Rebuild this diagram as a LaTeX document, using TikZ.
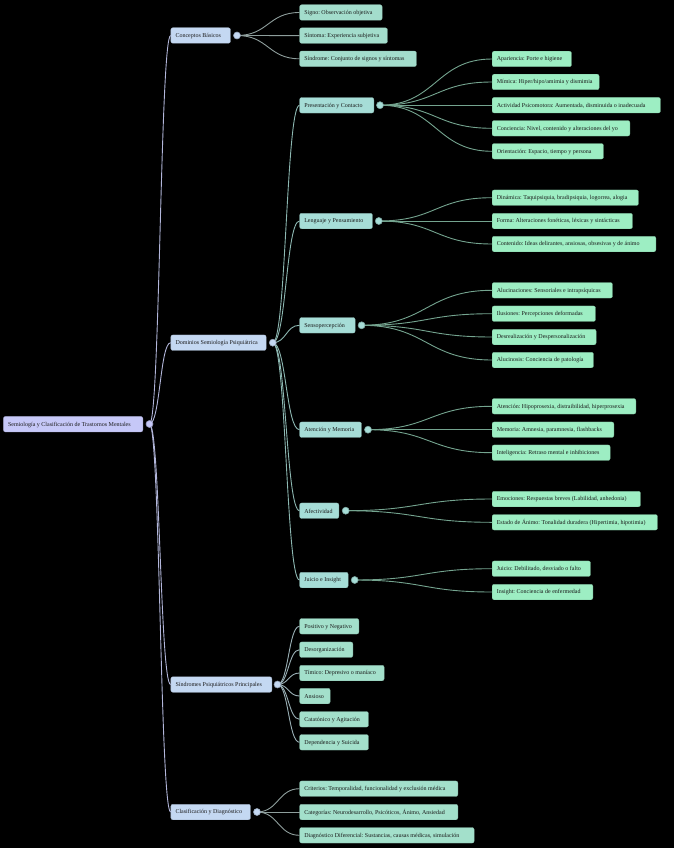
\documentclass[tikz,border=0pt]{standalone}
\usepackage{fontspec}
\setmainfont{Liberation Serif}
\usetikzlibrary{calc}
\frenchspacing
\definecolor{bg}{HTML}{000000}
\definecolor{cRoot}{HTML}{C6C8F8}
\definecolor{cL1}{HTML}{C4D8F2}
\definecolor{cCon}{HTML}{A3DDCC}
\definecolor{cDom}{HTML}{A6DDD7}
\definecolor{cL3}{HTML}{9DEEC3}
\definecolor{cSin}{HTML}{A3E0CB}
\definecolor{eRoot}{HTML}{B2B6DA}
\definecolor{eCon}{HTML}{8E9E9C}
\definecolor{eDom}{HTML}{8DB8B2}
\definecolor{eL3}{HTML}{74A48F}
\definecolor{eSin}{HTML}{9AB0B6}
\definecolor{txtc}{HTML}{1A1A1A}
\tikzset{
  box/.style={rectangle, rounded corners=2pt, inner sep=0pt, minimum height=15.5pt, anchor=west},
  txt/.style={inner xsep=4.6pt, inner ysep=0pt, anchor=west, text=txtc, font=\fontsize{6}{7}\selectfont},
  dot/.style={circle, inner sep=0pt, minimum size=7pt, line width=0.6pt},
  link/.style={line width=0.9pt},
}
% name, fill, x, y, width, text
\newcommand\bx[6]{%
  \node[box, fill=#2, draw=#2!85!black, line width=0.3pt, minimum width=#5pt] (#1) at (#3,#4) {};
  \node[txt] at ([yshift=-0.4pt]#1.west) {#6};}
% name, fill, x, y
\newcommand\dt[4]{\node[dot, fill=#2, draw=#2!75!black] (#1) at (#3,#4) {};}
% style colour, from, to
\newcommand\lk[3]{%
  \draw[link, draw=#1] let \p1=(#2.center), \p2=(#3.west) in
    (\p1) .. controls ({(\x1+\x2)/2},\y1) and ({(\x1+\x2)/2},\y2) .. (\p2);}
\begin{document}
\begin{tikzpicture}[x=1pt,y=-1pt]
\fill[bg] (0,0) rectangle (674,848);
\useasboundingbox (0,0) rectangle (674,848);

% ---------- boxes ----------
\bx{root}{cRoot}{3.3}{424.2}{139.4}{Semiología y Clasificación de Trastornos Mentales}
\bx{con}{cL1}{170.7}{35.5}{59.6}{Conceptos Básicos}
\bx{dom}{cL1}{170.7}{342.7}{95.3}{Dominios Semiología Psiquiátrica}
\bx{sin}{cL1}{170.7}{684.5}{101}{Síndromes Psiquiátricos Principales}
\bx{cla}{cL1}{170.7}{812}{79.6}{Clasificación y Diagnóstico}

\bx{c1}{cCon}{299.5}{12.5}{82.5}{Signo: Observación objetiva}
\bx{c2}{cCon}{299.5}{35.6}{87.8}{Síntoma: Experiencia subjetiva}
\bx{c3}{cCon}{299.5}{58.8}{116.8}{Síndrome: Conjunto de signos y síntomas}

\bx{d1}{cDom}{299.5}{105.3}{74.2}{Presentación y Contacto}
\bx{d2}{cDom}{299.5}{221}{72.8}{Lenguaje y Pensamiento}
\bx{d3}{cDom}{299.5}{325.3}{55.5}{Sensopercepción}
\bx{d4}{cDom}{299.5}{429.7}{61.8}{Atención y Memoria}
\bx{d5}{cDom}{299.5}{510.7}{39.2}{Afectividad}
\bx{d6}{cDom}{299.5}{580}{48.5}{Juicio e Insight}

\bx{p1}{cL3}{492}{59}{79.3}{Apariencia: Porte e higiene}
\bx{p2}{cL3}{492}{82}{107}{Mímica: Hiper/hipo/amimia y dismimia}
\bx{p3}{cL3}{492}{105.2}{168.3}{Actividad Psicomotora: Aumentada, disminuida o inadecuada}
\bx{p4}{cL3}{492}{128.3}{137.7}{Conciencia: Nivel, contenido y alteraciones del yo}
\bx{p5}{cL3}{492}{151.3}{111.3}{Orientación: Espacio, tiempo y persona}

\bx{l1}{cL3}{492}{197.7}{146.3}{Dinámica: Taquipsiquia, bradipsiquia, logorrea, alogia}
\bx{l2}{cL3}{492}{221}{140.3}{Forma: Alteraciones fonéticas, léxicas y sintácticas}
\bx{l3}{cL3}{492}{244}{163.7}{Contenido: Ideas delirantes, ansiosas, obsesivas y de ánimo}

\bx{s1}{cL3}{492}{290.3}{120.3}{Alucinaciones: Sensoriales e intrapsíquicas}
\bx{s2}{cL3}{492}{313.7}{103.3}{Ilusiones: Percepciones deformadas}
\bx{s3}{cL3}{492}{337}{104}{Desrealización y Despersonalización}
\bx{s4}{cL3}{492}{360}{101.3}{Alucinosis: Conciencia de patología}

\bx{a1}{cL3}{492}{406.3}{143.7}{Atención: Hipoprosexia, distraibilidad, hiperprosexia}
\bx{a2}{cL3}{492}{429.7}{121.7}{Memoria: Amnesia, paramnesia, flashbacks}
\bx{a3}{cL3}{492}{452.7}{118}{Inteligencia: Retraso mental e inhibiciones}

\bx{f1}{cL3}{492}{499}{148.3}{Emociones: Respuestas breves (Labilidad, anhedonia)}
\bx{f2}{cL3}{492}{522.3}{165.3}{Estado de Ánimo: Tonalidad duradera (Hipertimia, hipotimia)}

\bx{j1}{cL3}{492}{568.7}{98.3}{Juicio: Debilitado, desviado o falto}
\bx{j2}{cL3}{492}{592}{100.7}{Insight: Conciencia de enfermedad}

\bx{y1}{cSin}{299.5}{626.3}{59.2}{Positivo y Negativo}
\bx{y2}{cSin}{299.5}{649.7}{53.2}{Desorganización}
\bx{y3}{cSin}{299.5}{673}{84.5}{Tímico: Depresivo o maníaco}
\bx{y4}{cSin}{299.5}{696}{30.5}{Ansioso}
\bx{y5}{cSin}{299.5}{719.3}{68.8}{Catatónico y Agitación}
\bx{y6}{cSin}{299.5}{742.3}{68.8}{Dependencia y Suicida}

\bx{k1}{cSin}{299.5}{788.7}{158.2}{Criterios: Temporalidad, funcionalidad y exclusión médica}
\bx{k2}{cSin}{299.5}{812}{158.2}{Categorías: Neurodesarrollo, Psicóticos, Ánimo, Ansiedad}
\bx{k3}{cSin}{299.5}{835.3}{174.5}{Diagnóstico Diferencial: Sustancias, causas médicas, simulación}

% ---------- circle centres ----------
\coordinate (rootC) at (149.5,424);
\coordinate (conC) at (237,35.5);
\coordinate (domC) at (272.8,342.7);
\coordinate (sinC) at (277.5,684.5);
\coordinate (claC) at (257,812);
\coordinate (d1C) at (380,105.2);
\coordinate (d2C) at (378.8,221);
\coordinate (d3C) at (361.6,325.3);
\coordinate (d4C) at (368,429.7);
\coordinate (d5C) at (345.7,510.7);
\coordinate (d6C) at (354.7,580);

% ---------- links ----------
\foreach \t in {con,dom,sin,cla} {\lk{eRoot}{rootC}{\t}}
\foreach \t in {c1,c2,c3} {\lk{eCon}{conC}{\t}}
\foreach \t in {d1,d2,d3,d4,d5,d6} {\lk{eDom}{domC}{\t}}
\foreach \t in {y1,y2,y3,y4,y5,y6} {\lk{eSin}{sinC}{\t}}
\foreach \t in {k1,k2,k3} {\lk{eCon}{claC}{\t}}
\foreach \t in {p1,p2,p3,p4,p5} {\lk{eL3}{d1C}{\t}}
\foreach \t in {l1,l2,l3} {\lk{eL3}{d2C}{\t}}
\foreach \t in {s1,s2,s3,s4} {\lk{eL3}{d3C}{\t}}
\foreach \t in {a1,a2,a3} {\lk{eL3}{d4C}{\t}}
\foreach \t in {f1,f2} {\lk{eL3}{d5C}{\t}}
\foreach \t in {j1,j2} {\lk{eL3}{d6C}{\t}}

% ---------- dots ----------
\dt{rootD}{cRoot}{149.5}{424}
\dt{conD}{cL1}{237}{35.5}
\dt{domD}{cL1}{272.8}{342.7}
\dt{sinD}{cL1}{277.5}{684.5}
\dt{claD}{cL1}{257}{812}
\dt{d1D}{cDom}{380}{105.2}
\dt{d2D}{cDom}{378.8}{221}
\dt{d3D}{cDom}{361.6}{325.3}
\dt{d4D}{cDom}{368}{429.7}
\dt{d5D}{cDom}{345.7}{510.7}
\dt{d6D}{cDom}{354.7}{580}
\end{tikzpicture}
\end{document}
